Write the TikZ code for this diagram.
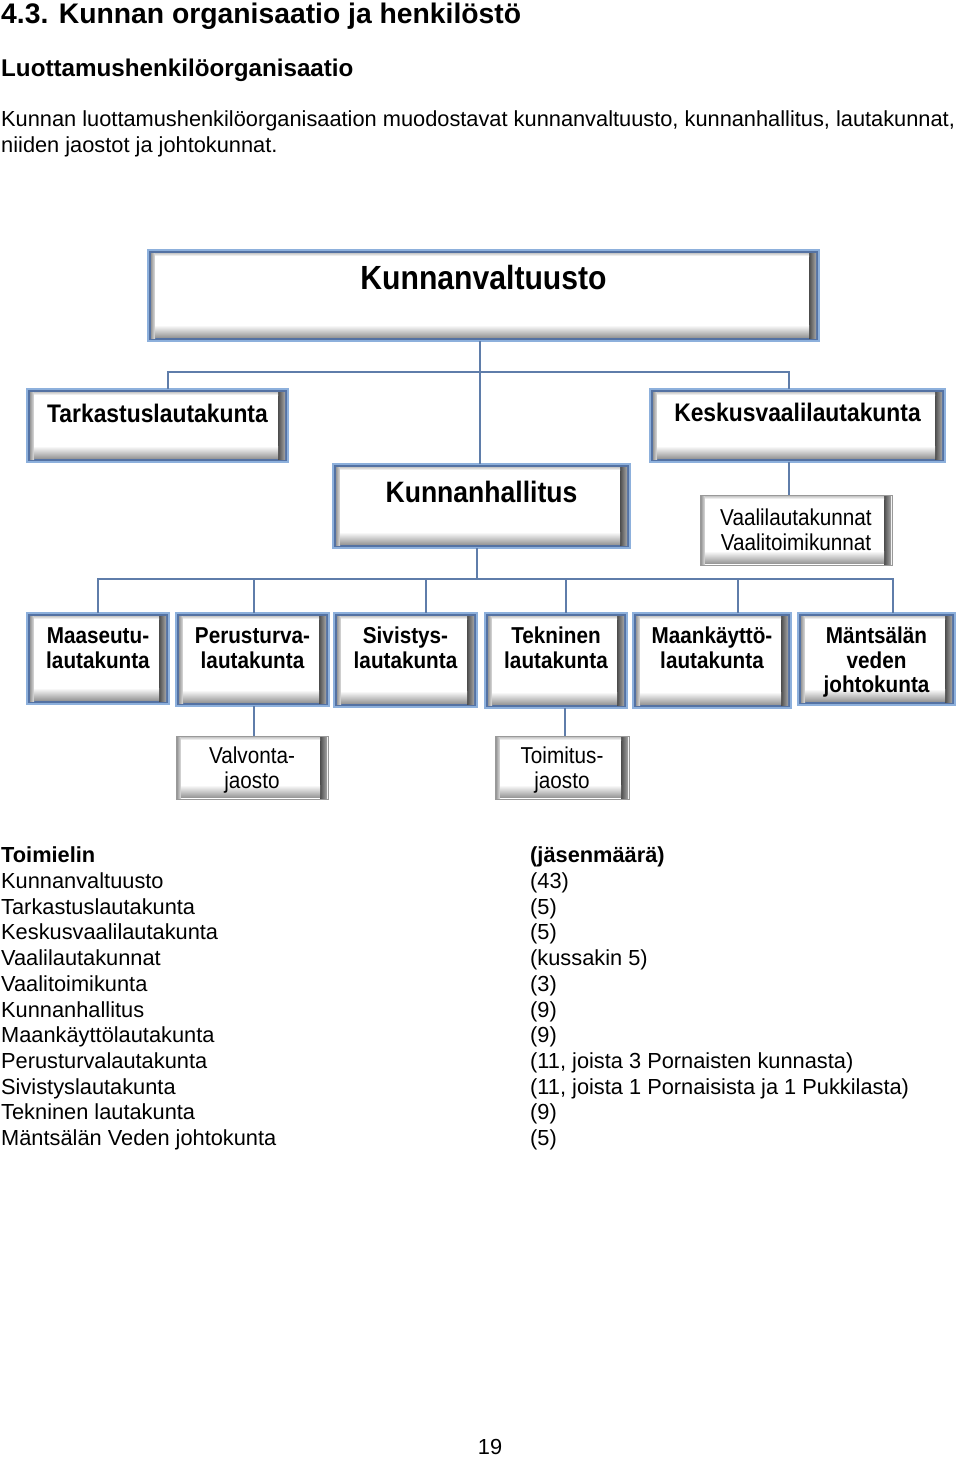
\documentclass[tikz,border=0pt]{standalone}
\usepackage{fontspec}
\setmainfont{Liberation Sans}
\newfontfamily\bxfont[FakeStretch=0.9]{Liberation Sans}
\definecolor{bordlight}{RGB}{141,176,220}
\definecolor{borddark}{RGB}{84,114,163}
\definecolor{lineblue}{RGB}{95,125,170}
\newcommand\bx[4]{\parbox[c][#2pt][t]{#1pt}{\centering\rule{0pt}{#3pt}#4\par}}
\newcommand\bev[1]{%
 \fill[black!30] ([shift={(#1pt,#1pt)}]path picture bounding box.south west) rectangle ([shift={(-#1pt,-#1pt)}]path picture bounding box.north east);
 \shade[left color=black!40, right color=black!12] ([shift={(#1pt,#1pt)}]path picture bounding box.south west) rectangle ([shift={({#1pt+4pt},{-#1pt})}]path picture bounding box.north west);
 \shade[left color=black!70, right color=black!35] ([shift={({-#1pt-7pt},{#1pt})}]path picture bounding box.south east) rectangle ([shift={(-#1pt,-#1pt)}]path picture bounding box.north east);
 \shade[top color=white, bottom color=black!40] ([shift={({#1pt+4pt},{#1pt+1pt})}]path picture bounding box.south west) rectangle ([shift={({-#1pt-7pt},{#1pt+13pt})}]path picture bounding box.south east);
 \shade[top color=black!22, bottom color=white] ([shift={({#1pt+4pt},{-#1pt})}]path picture bounding box.north west) rectangle ([shift={({-#1pt-7pt},{-#1pt-3pt})}]path picture bounding box.north east);
 \fill[white] ([shift={({#1pt+4pt},{#1pt+13pt})}]path picture bounding box.south west) rectangle ([shift={({-#1pt-7pt},{-#1pt-3pt})}]path picture bounding box.north east);
}
\tikzset{
 bluebox/.style={draw=bordlight, line width=1.6pt, fill=white, inner sep=0pt, outer sep=0pt,
   path picture={\draw[borddark, line width=2pt] ([shift={(2pt,2pt)}]path picture bounding box.south west) rectangle ([shift={(-2pt,-2pt)}]path picture bounding box.north east); \bev{3}}},
 graybox/.style={draw=black!40, line width=1pt, fill=white, inner sep=0pt, outer sep=0pt,
   path picture={\bev{1}}},
 conn/.style={draw=lineblue, line width=1.3pt},
 txt/.style={anchor=base west, inner sep=0pt, font=\fontsize{21.8}{26}\selectfont},
 txtb/.style={txt, font=\bfseries\fontsize{21.8}{26}\selectfont},
 big/.style={font=\bxfont\bfseries\fontsize{33.5}{36}\selectfont},
 mid/.style={font=\bxfont\bfseries\fontsize{25.4}{28}\selectfont},
 khf/.style={font=\bxfont\bfseries\fontsize{29.5}{32}\selectfont},
 sml/.style={font=\bxfont\bfseries\fontsize{23}{24.5}\selectfont},
 reg/.style={font=\bxfont\fontsize{23}{25}\selectfont}
}
\begin{document}
\begin{tikzpicture}[x=1pt,y=-1pt]
\useasboundingbox (0,0) rectangle (960,1457);

% heading and paragraph
\node[anchor=base west, inner sep=0pt, font=\bfseries\fontsize{28.3}{34}\selectfont] (h1) at (1,23) {4.3. Kunnan organisaatio ja henkilöstö};
\node[anchor=base west, inner sep=0pt, font=\bfseries\fontsize{24.2}{29}\selectfont] (h2) at (1,76) {Luottamushenkilöorganisaatio};
\node[txt] (p1) at (1,126.5) {Kunnan luottamushenkilöorganisaation muodostavat kunnanvaltuusto, kunnanhallitus, lautakunnat,};
\node[txt] (p2) at (1,152.5) {niiden jaostot ja johtokunnat.};

% boxes
\node[bluebox, big] (kv) at (483.5,295.5) {\bx{671}{91}{39}{Kunnanvaltuusto}};
\node[bluebox, mid] (tark) at (157.5,425.5) {\bx{261}{73}{33}{Tarkastuslautakunta}};
\node[bluebox, mid] (kesk) at (797.5,425.5) {\bx{295}{73}{32}{Keskusvaalilautakunta}};
\node[graybox, reg] (vaali) at (796,530) {\bx{192}{70}{30}{Vaalilautakunnat\\Vaalitoimikunnat}};
\node[bluebox, khf] (kh) at (481.5,506) {\bx{297}{84}{38.5}{Kunnanhallitus}};

\node[bluebox, sml] (maa) at (98,658.5) {\bx{142}{91}{30.5}{Maaseutu-\\lautakunta}};
\node[bluebox, sml] (per) at (252.5,659.5) {\bx{153}{93}{30.5}{Perusturva-\\lautakunta}};
\node[bluebox, sml] (siv) at (405.5,660) {\bx{143}{94}{30.5}{Sivistys-\\lautakunta}};
\node[bluebox, sml] (tek) at (556,660.5) {\bx{142}{95}{30.5}{Tekninen\\lautakunta}};
\node[bluebox, sml] (maank) at (712,660.5) {\bx{158}{95}{30.5}{Maankäyttö-\\lautakunta}};
\node[bluebox, sml] (mant) at (876.5,659) {\bx{157}{92}{30.5}{Mäntsälän\\veden\\johtokunta}};

\node[graybox, reg] (valv) at (252,767.5) {\bx{152}{63}{27}{Valvonta-\\jaosto}};
\node[graybox, reg] (toim) at (562,767.5) {\bx{134}{63}{27}{Toimitus-\\jaosto}};

% connectors
\coordinate (j1) at (480,372);
\coordinate (j2) at (477,579);
\draw[conn] (kv.south -| j1) -- (kh.north -| j1);
\draw[conn] ([xshift=10.5pt]tark.north) |- (j1) -| ([xshift=-8.5pt]kesk.north);
\draw[conn] ([xshift=-8.5pt]kesk.south) -- ([xshift=-8.5pt]kesk.south |- vaali.north);
\draw[conn] (kh.south -| j2) -- (j2);
\draw[conn] (maa.north) |- ([xshift=16.5pt]mant.north |- j2) -- ([xshift=16.5pt]mant.north);
\draw[conn] ([xshift=1.5pt]per.north) -- ([xshift=1.5pt]per.north |- j2);
\draw[conn] ([xshift=20.5pt]siv.north) -- ([xshift=20.5pt]siv.north |- j2);
\draw[conn] ([xshift=10pt]tek.north) -- ([xshift=10pt]tek.north |- j2);
\draw[conn] ([xshift=26pt]maank.north) -- ([xshift=26pt]maank.north |- j2);
\draw[conn] ([xshift=1.5pt]per.south) -- ([xshift=1.5pt]per.south |- valv.north);
\draw[conn] ([xshift=9pt]tek.south) -- ([xshift=9pt]tek.south |- toim.north);

% table
\node[txtb] (ta0) at (1,862.8) {Toimielin};
\node[txtb] (tb0) at (530,862.8) {(jäsenmäärä)};
\foreach \a/\b [count=\i] in {Kunnanvaltuusto/(43), Tarkastuslautakunta/(5), Keskusvaalilautakunta/(5), Vaalilautakunnat/(kussakin 5), Vaalitoimikunta/(3), Kunnanhallitus/(9), Maankäyttölautakunta/(9), Perusturvalautakunta/{(11, joista 3 Pornaisten kunnasta)}, Sivistyslautakunta/{(11, joista 1 Pornaisista ja 1 Pukkilasta)}, Tekninen lautakunta/(9), Mäntsälän Veden johtokunta/(5)}{
  \node[txt] (ta\i) at (1,862.8+25.7*\i) {\a};
  \node[txt] (tb\i) at (530,862.8+25.7*\i) {\b};
}

\node[anchor=base, inner sep=0pt, font=\fontsize{21.8}{26}\selectfont] (pg) at (490,1454) {19};
\end{tikzpicture}
\end{document}
